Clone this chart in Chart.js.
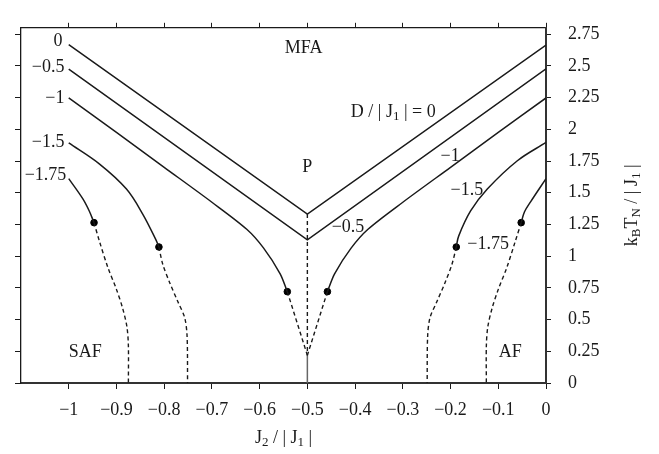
<!DOCTYPE html>
<html>
<head>
<meta charset="utf-8">
<script src="https://cdn.jsdelivr.net/npm/chart.js@4"></script>
<style>
  body { margin: 0; background: #fff; }
</style>
</head>
<body>
<canvas id="c" width="659" height="454"></canvas>
<script>
// tick values
const xTicks = [-1, -0.9, -0.8, -0.7, -0.6, -0.5, -0.4, -0.3, -0.2, -0.1, 0];
const yTicks = [0, 0.25, 0.5, 0.75, 1, 1.25, 1.5, 1.75, 2, 2.25, 2.5, 2.75];

// D/|J1| = 0 and -0.5 (V shaped)
const d0X = [-1, -0.5, 0];
const d0Y = [2.667, 1.332, 2.663];
const d05X = [-1, -0.5, 0];
const d05Y = [2.475, 1.128, 2.477];

// D/|J1| = -1 solid branches
const d1LX = [-1, -0.9, -0.8, -0.7, -0.627, -0.592, -0.557, -0.542];
const d1LY = [2.247, 1.975, 1.70, 1.425, 1.212, 1.065, 0.861, 0.72];
const d1RX = [0, -0.1, -0.2, -0.3, -0.373, -0.408, -0.443, -0.458];
const d1RY = [2.247, 1.975, 1.70, 1.425, 1.212, 1.065, 0.861, 0.72];

// D/|J1| = -1.5 solid branches
const d15LX = [-1, -0.936, -0.879, -0.845, -0.818, -0.811];
const d15LY = [1.893, 1.728, 1.529, 1.332, 1.134, 1.072];
const d15RX = [0, -0.060, -0.123, -0.158, -0.183, -0.188];
const d15RY = [1.896, 1.752, 1.529, 1.356, 1.158, 1.072];

// D/|J1| = -1.75 solid branches
const d175LX = [-1, -0.971, -0.957, -0.947];
const d175LY = [1.611, 1.455, 1.356, 1.264];
const d175RX = [0, -0.032, -0.045, -0.052];
const d175RY = [1.611, 1.43, 1.35, 1.264];

// dashed (first order) branches
const dash175LX = [-0.947, -0.935, -0.918, -0.900, -0.887, -0.878, -0.875, -0.875];
const dash175LY = [1.264, 1.109, 0.911, 0.738, 0.589, 0.441, 0.292, 0];
const dash15LX = [-0.811, -0.803, -0.788, -0.771, -0.757, -0.752, -0.751];
const dash15LY = [1.072, 0.936, 0.787, 0.638, 0.515, 0.367, 0];
const dash15RX = [-0.188, -0.197, -0.212, -0.229, -0.243, -0.248, -0.249];
const dash15RY = [1.072, 0.936, 0.787, 0.638, 0.515, 0.367, 0];
const dash175RX = [-0.052, -0.065, -0.082, -0.100, -0.113, -0.122, -0.125, -0.125];
const dash175RY = [1.264, 1.109, 0.911, 0.738, 0.589, 0.441, 0.292, 0];
const dashCLX = [-0.542, -0.5];
const dashCLY = [0.72, 0.218];
const dashCRX = [-0.458, -0.5];
const dashCRY = [0.72, 0.218];
const dashVX = [-0.5, -0.5];
const dashVY = [1.332, 0.218];
const solidVX = [-0.5, -0.5];
const solidVY = [0.218, 0];

// tricritical points
const dotX = [-0.947, -0.811, -0.542, -0.458, -0.188, -0.052];
const dotY = [1.264, 1.072, 0.72, 0.72, 1.072, 1.264];

const pts = (xs, ys) => xs.map((x, i) => ({ x: x, y: ys[i] }));
const fmt = v => String(Math.round(v * 100) / 100).replace('-', '\u2212');

const FONT = 'Liberation Serif';
const INK = '#1a1a1a';

function line(xs, ys, opts) {
  return Object.assign({
    data: pts(xs, ys),
    showLine: true,
    borderColor: INK,
    borderWidth: 1.5,
    pointRadius: 0,
    tension: 0.35
  }, opts || {});
}
const dashed = { borderDash: [4, 3], borderWidth: 1.4, tension: 0.3 };

const datasets = [
  line(d0X, d0Y, { tension: 0 }),
  line(d05X, d05Y, { tension: 0 }),
  line(d1LX, d1LY, { tension: 0.3 }),
  line(d1RX, d1RY, { tension: 0.3 }),
  line(d15LX, d15LY),
  line(d15RX, d15RY),
  line(d175LX, d175LY),
  line(d175RX, d175RY),
  line(dash175LX, dash175LY, dashed),
  line(dash15LX, dash15LY, dashed),
  line(dash15RX, dash15RY, dashed),
  line(dash175RX, dash175RY, dashed),
  line(dashCLX, dashCLY, Object.assign({}, dashed, { tension: 0 })),
  line(dashCRX, dashCRY, Object.assign({}, dashed, { tension: 0 })),
  line(dashVX, dashVY, Object.assign({}, dashed, { tension: 0 })),
  line(solidVX, solidVY, { tension: 0, borderColor: '#666', borderWidth: 1.5 }),
  {
    data: pts(dotX, dotY),
    showLine: false,
    pointRadius: 3.3,
    pointBackgroundColor: '#000',
    pointBorderColor: '#000'
  }
];

// text labels in the plot: parts are [text, subscript?]
const notes = [
  { parts: [['0']], x: -1.013, y: 2.69, align: 'right' },
  { parts: [['\u22120.5']], x: -1.009, y: 2.485, align: 'right' },
  { parts: [['\u22121']], x: -1.009, y: 2.247, align: 'right' },
  { parts: [['\u22121.5']], x: -1.009, y: 1.898, align: 'right' },
  { parts: [['\u22121.75']], x: -1.005, y: 1.638, align: 'right' },
  { parts: [['MFA']], x: -0.508, y: 2.64, align: 'center' },
  { parts: [['P']], x: -0.5, y: 1.698, align: 'center' },
  { parts: [['D / | J'], ['1', true], [' | = 0']], x: -0.409, y: 2.136, align: 'left' },
  { parts: [['\u22121']], x: -0.221, y: 1.787, align: 'left' },
  { parts: [['\u22121.5']], x: -0.200, y: 1.519, align: 'left' },
  { parts: [['\u22120.5']], x: -0.449, y: 1.230, align: 'left' },
  { parts: [['\u22121.75']], x: -0.165, y: 1.096, align: 'left' },
  { parts: [['SAF']], x: -1.0, y: 0.243, align: 'left' },
  { parts: [['AF']], x: -0.099, y: 0.243, align: 'left' }
];
const xTitle = [['J'], ['2', true], [' / | J'], ['1', true], [' |']];
const yTitle = [['k'], ['B', true], ['T'], ['N', true], [' / | J'], ['1', true], [' |']];

function drawRich(ctx, parts, x, y, align) {
  const big = '18px "' + FONT + '"';
  const small = '13px "' + FONT + '"';
  let w = 0;
  parts.forEach(p => { ctx.font = p[1] ? small : big; w += ctx.measureText(p[0]).width; });
  let cx = align === 'right' ? x - w : align === 'center' ? x - w / 2 : x;
  ctx.textAlign = 'left';
  ctx.textBaseline = 'middle';
  ctx.fillStyle = INK;
  parts.forEach(p => {
    ctx.font = p[1] ? small : big;
    ctx.fillText(p[0], cx, p[1] ? y + 5 : y);
    cx += ctx.measureText(p[0]).width;
  });
}

const textPlugin = {
  id: 'texts',
  afterDatasetsDraw(chart) {
    const ctx = chart.ctx;
    const sx = chart.scales.x, sy = chart.scales.y;
    const area = chart.chartArea;
    ctx.save();
    notes.forEach(n => drawRich(ctx, n.parts, sx.getPixelForValue(n.x), sy.getPixelForValue(n.y), n.align));
    drawRich(ctx, xTitle, (area.left + area.right) / 2, area.bottom + 55, 'center');
    ctx.translate(area.right + 86, (area.top + area.bottom) / 2);
    ctx.rotate(-Math.PI / 2);
    drawRich(ctx, yTitle, 0, 0, 'center');
    ctx.restore();
  }
};

const tickFont = { family: FONT, size: 18 };

new Chart(document.getElementById('c'), {
  type: 'scatter',
  data: { datasets: datasets },
  options: {
    responsive: false,
    animation: false,
    devicePixelRatio: 1,
    layout: { padding: 0 },
    plugins: { legend: { display: false }, tooltip: { enabled: false } },
    scales: {
      x: {
        type: 'linear', position: 'bottom', min: -1.1, max: 0,
        afterBuildTicks: s => { s.ticks = xTicks.map(v => ({ value: v })); },
        afterFit: s => { s.height = 71; },
        ticks: { callback: v => fmt(v), font: tickFont, color: INK, padding: 10, maxRotation: 0, autoSkip: false },
        grid: { drawOnChartArea: false, drawTicks: true, tickLength: 6, color: INK },
        border: { color: '#333', width: 2 }
      },
      xTop: {
        type: 'linear', position: 'top', min: -1.1, max: 0,
        afterBuildTicks: s => { s.ticks = xTicks.map(v => ({ value: v })); },
        afterFit: s => { s.height = 5; },
        ticks: { display: false },
        grid: { drawOnChartArea: false, drawTicks: true, tickLength: 5, color: INK },
        border: { color: INK, width: 1.3 }
      },
      y: {
        type: 'linear', position: 'right', min: 0, max: 2.8,
        afterBuildTicks: s => { s.ticks = yTicks.map(v => ({ value: v })); },
        afterFit: s => { s.width = 113; },
        ticks: { callback: v => fmt(v), font: tickFont, color: INK, padding: 17, autoSkip: false },
        grid: { drawOnChartArea: false, drawTicks: true, tickLength: 5, color: INK },
        border: { color: '#333', width: 2 }
      },
      yLeft: {
        type: 'linear', position: 'left', min: 0, max: 2.8,
        afterBuildTicks: s => { s.ticks = yTicks.map(v => ({ value: v })); },
        afterFit: s => { s.width = 21; },
        ticks: { display: false },
        grid: { drawOnChartArea: false, drawTicks: true, tickLength: 6, color: INK },
        border: { color: INK, width: 1.3 }
      }
    }
  },
  plugins: [textPlugin]
});
</script>
</body>
</html>
